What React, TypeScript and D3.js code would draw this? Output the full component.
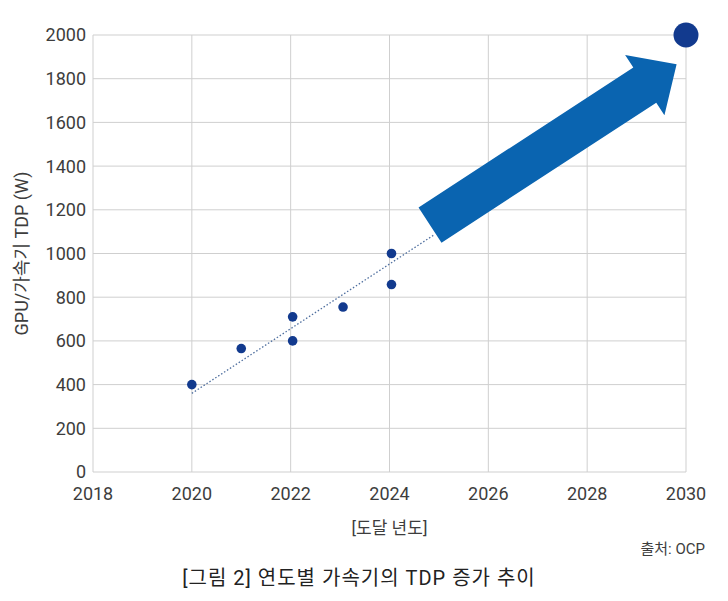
import React, { useRef, useEffect } from 'react';
import * as d3 from 'd3';

// 연도별 가속기 TDP (W)
const years = [2020, 2021, 2022.04, 2022.04, 2023.06, 2024.04, 2024.04];
const tdpValues = [400, 565, 710, 600, 755, 1000, 858];
const target = { year: 2030, value: 2000 };

// 점선 추세선 (시작, 끝)
const trendYears = [2020, 2024.9];
const trendValues = [360, 1085];

// 화살표 (꼬리 중심 → 끝)
const arrowYears = [2024.82, 2029.81];
const arrowValues = [1130, 1866];

const xTicks = [2018, 2020, 2022, 2024, 2026, 2028, 2030];
const yTicks = [0, 200, 400, 600, 800, 1000, 1200, 1400, 1600, 1800, 2000];

const FONT = "Roboto, 'Noto Sans CJK KR', sans-serif";

const TdpChart: React.FC<{ width?: number; height?: number }> = ({ width = 728, height = 601 }) => {
  const svgRef = useRef<SVGSVGElement>(null);

  useEffect(() => {
    const svg = d3.select(svgRef.current);
    svg.selectAll('*').remove();

    const margin = { top: 35, right: 42, bottom: 129, left: 93 };
    const innerWidth = width - margin.left - margin.right;
    const innerHeight = height - margin.top - margin.bottom;

    const x = d3.scaleLinear().domain([2018, 2030]).range([0, innerWidth]);
    const y = d3.scaleLinear().domain([0, 2000]).range([innerHeight, 0]);

    const g = svg.append('g').attr('transform', `translate(${margin.left},${margin.top})`);

    // 그리드
    g.append('g')
      .selectAll('line')
      .data(yTicks)
      .enter()
      .append('line')
      .attr('x1', 0)
      .attr('x2', innerWidth)
      .attr('y1', d => y(d))
      .attr('y2', d => y(d))
      .attr('stroke', '#cfcfcf')
      .attr('stroke-width', 1);

    g.append('g')
      .selectAll('line')
      .data(xTicks)
      .enter()
      .append('line')
      .attr('x1', d => x(d))
      .attr('x2', d => x(d))
      .attr('y1', 0)
      .attr('y2', innerHeight)
      .attr('stroke', '#cfcfcf')
      .attr('stroke-width', 1);

    // 눈금 라벨
    g.append('g')
      .selectAll('text')
      .data(yTicks)
      .enter()
      .append('text')
      .attr('x', -7)
      .attr('y', d => y(d))
      .attr('dy', '0.36em')
      .attr('text-anchor', 'end')
      .attr('font-family', FONT)
      .attr('font-size', 18)
      .attr('fill', '#3d3d3d')
      .text(d => d);

    g.append('g')
      .selectAll('text')
      .data(xTicks)
      .enter()
      .append('text')
      .attr('x', d => x(d))
      .attr('y', innerHeight + 22)
      .attr('dy', '0.36em')
      .attr('text-anchor', 'middle')
      .attr('font-family', FONT)
      .attr('font-size', 18)
      .attr('fill', '#3d3d3d')
      .text(d => d);

    // 추세선
    g.append('line')
      .attr('x1', x(trendYears[0]))
      .attr('y1', y(trendValues[0]))
      .attr('x2', x(trendYears[1]))
      .attr('y2', y(trendValues[1]))
      .attr('stroke', '#4f6f9f')
      .attr('stroke-width', 1.3)
      .attr('stroke-dasharray', '1.5 2');

    // 화살표
    const x0 = x(arrowYears[0]);
    const y0 = y(arrowValues[0]);
    const x1 = x(arrowYears[1]);
    const y1 = y(arrowValues[1]);
    const len = Math.hypot(x1 - x0, y1 - y0);
    const ux = (x1 - x0) / len;
    const uy = (y1 - y0) / len;
    const px = -uy;
    const py = ux;
    const shaftHalf = 21;
    const headHalf = 36;
    const headLen = 38;
    const bx = x1 - ux * headLen;
    const by = y1 - uy * headLen;
    const pts: [number, number][] = [
      [x0 + px * shaftHalf, y0 + py * shaftHalf],
      [bx + px * shaftHalf, by + py * shaftHalf],
      [bx + px * headHalf, by + py * headHalf],
      [x1, y1],
      [bx - px * headHalf, by - py * headHalf],
      [bx - px * shaftHalf, by - py * shaftHalf],
      [x0 - px * shaftHalf, y0 - py * shaftHalf],
    ];
    g.append('path')
      .attr('d', d3.line()(pts) + 'Z')
      .attr('fill', '#0a64b0');

    // 점
    g.append('g')
      .selectAll('circle')
      .data(years.map((yr, i) => ({ yr, v: tdpValues[i] })))
      .enter()
      .append('circle')
      .attr('cx', d => x(d.yr))
      .attr('cy', d => y(d.v))
      .attr('r', 4.8)
      .attr('fill', '#123a8e');

    g.append('circle')
      .attr('cx', x(target.year))
      .attr('cy', y(target.value))
      .attr('r', 12.5)
      .attr('fill', '#123a8e');

    // 축 제목
    svg.append('text')
      .attr('transform', `translate(28,${margin.top + innerHeight / 2}) rotate(-90)`)
      .attr('text-anchor', 'middle')
      .attr('font-family', FONT)
      .attr('font-size', 18)
      .attr('fill', '#3d3d3d')
      .text('GPU/가속기 TDP (W)');

    svg.append('text')
      .attr('x', margin.left + innerWidth / 2)
      .attr('y', 534)
      .attr('text-anchor', 'middle')
      .attr('font-family', FONT)
      .attr('font-size', 17)
      .attr('fill', '#3d3d3d')
      .text('[도달 년도]');

    svg.append('text')
      .attr('x', 705)
      .attr('y', 554)
      .attr('text-anchor', 'end')
      .attr('font-family', FONT)
      .attr('font-size', 15)
      .attr('fill', '#3d3d3d')
      .text('출처: OCP');

    svg.append('text')
      .attr('x', 359)
      .attr('y', 585)
      .attr('text-anchor', 'middle')
      .attr('font-family', FONT)
      .attr('font-size', 20)
      .attr('letter-spacing', 1)
      .attr('fill', '#222')
      .text('[그림 2] 연도별 가속기의 TDP 증가 추이');
  }, [width, height]);

  return <svg ref={svgRef} width={width} height={height} style={{ display: 'block' }} />;
};

export default function App() {
  return (
    <div style={{ position: 'absolute', left: 0, top: 0, background: '#fff' }}>
      <TdpChart />
    </div>
  );
}
